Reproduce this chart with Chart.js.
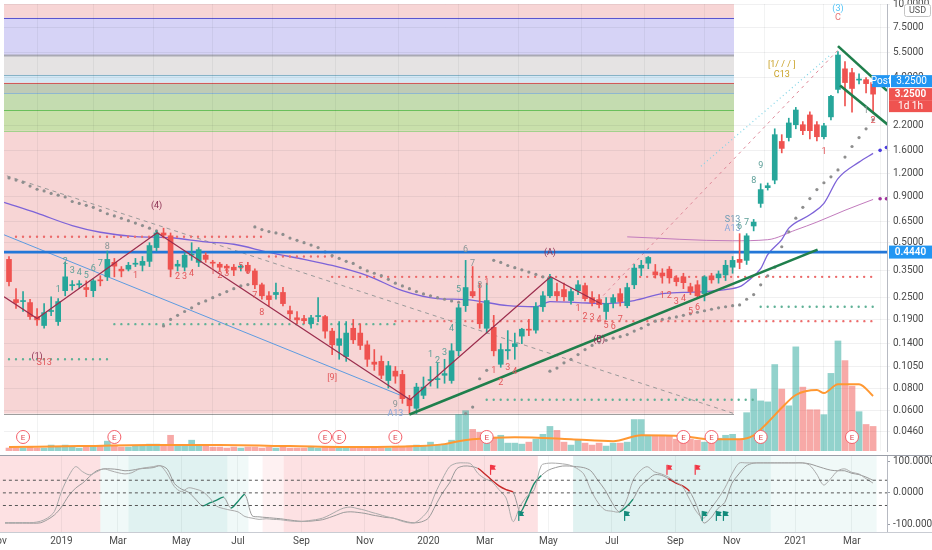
<!DOCTYPE html>
<html>
<head>
<meta charset="utf-8">
<script src="https://cdn.jsdelivr.net/npm/chart.js@4.4.1/dist/chart.umd.min.js"></script>
<style>
  html, body { margin: 0; padding: 0; background: #fff; width: 932px; height: 550px; overflow: hidden; }
  .pane { position: absolute; left: 0; width: 932px; }
</style>
</head>
<body>
<div class="pane" style="top:0;height:455px"><canvas id="mainChart"></canvas></div>
<div class="pane" style="top:455px;height:95px"><canvas id="oscChart"></canvas></div>
<script>
// weekly candles, first bar is the week of 12 Nov 2018
const firstWeek = '2018-11-12';

const opens = [0.405,0.244,0.238,0.235,0.197,0.176,0.210,0.185,0.273,0.291,
  0.294,0.284,0.273,0.313,0.325,0.390,0.358,0.358,0.381,0.376,
  0.395,0.470,0.565,0.545,0.372,0.367,0.427,0.390,0.427,0.390,
  0.381,0.372,0.367,0.367,0.376,0.350,0.294,0.256,0.260,0.267,
  0.212,0.194,0.192,0.180,0.197,0.197,0.164,0.137,0.119,0.170,
  0.160,0.138,0.111,0.112,0.088,0.099,0.095,0.070,0.062,0.073,
  0.088,0.089,0.094,0.088,0.128,0.226,0.270,0.232,0.170,0.172,
  0.108,0.128,0.135,0.154,0.168,0.166,0.223,0.256,0.270,0.277,
  0.241,0.273,0.291,0.250,0.244,0.210,0.235,0.263,0.226,0.294,
  0.363,0.386,0.346,0.341,0.358,0.321,0.325,0.287,0.294,0.263,
  0.329,0.321,0.333,0.367,0.405,0.400,0.617,0.82,1.00,1.10,
  1.79,1.88,2.21,2.21,2.50,2.21,1.90,2.44,3.45,4.47,
  4.26,3.88,3.90,3.76];
const highs = [0.42,0.28,0.27,0.245,0.218,0.232,0.253,0.247,0.39,0.31,
  0.31,0.309,0.317,0.33,0.45,0.41,0.37,0.39,0.41,0.42,
  0.50,0.58,0.60,0.565,0.40,0.44,0.50,0.47,0.44,0.40,
  0.39,0.38,0.38,0.38,0.39,0.36,0.30,0.27,0.30,0.285,
  0.225,0.21,0.20,0.20,0.25,0.20,0.17,0.185,0.185,0.19,
  0.18,0.145,0.13,0.12,0.112,0.105,0.10,0.073,0.085,0.092,
  0.105,0.11,0.115,0.14,0.23,0.40,0.37,0.30,0.30,0.20,
  0.14,0.165,0.16,0.17,0.19,0.235,0.27,0.335,0.30,0.30,
  0.28,0.31,0.30,0.27,0.26,0.25,0.26,0.28,0.30,0.38,
  0.40,0.42,0.38,0.36,0.37,0.33,0.34,0.30,0.31,0.33,
  0.34,0.35,0.40,0.42,0.56,0.56,0.67,1.05,1.06,2.1,
  1.95,2.4,2.75,2.30,2.60,2.30,2.25,3.2,5.55,4.9,
  4.5,4.2,4.0,3.9];
const lows = [0.29,0.218,0.21,0.19,0.176,0.17,0.199,0.176,0.256,0.275,
  0.28,0.253,0.253,0.29,0.31,0.325,0.325,0.35,0.37,0.35,
  0.37,0.45,0.53,0.325,0.35,0.35,0.40,0.37,0.39,0.37,
  0.35,0.34,0.33,0.35,0.34,0.28,0.245,0.225,0.245,0.225,
  0.19,0.18,0.18,0.17,0.185,0.15,0.122,0.115,0.112,0.14,
  0.13,0.105,0.10,0.09,0.08,0.085,0.066,0.058,0.058,0.07,
  0.082,0.08,0.085,0.085,0.12,0.21,0.25,0.17,0.16,0.12,
  0.104,0.115,0.115,0.14,0.155,0.16,0.21,0.25,0.24,0.24,
  0.23,0.26,0.24,0.225,0.22,0.19,0.22,0.225,0.22,0.28,
  0.33,0.36,0.32,0.30,0.30,0.29,0.28,0.26,0.25,0.24,
  0.30,0.30,0.31,0.34,0.36,0.38,0.58,0.78,0.97,1.05,
  1.55,1.80,2.10,1.95,1.85,1.80,1.85,2.35,3.30,2.8,
  2.59,3.7,3.3,2.59];
const closes = [0.306,0.235,0.240,0.197,0.189,0.207,0.212,0.238,0.325,0.294,
  0.298,0.277,0.309,0.309,0.405,0.372,0.350,0.376,0.386,0.395,
  0.482,0.565,0.550,0.358,0.381,0.427,0.432,0.458,0.405,0.386,
  0.367,0.363,0.354,0.372,0.350,0.294,0.256,0.244,0.267,0.232,
  0.204,0.189,0.187,0.194,0.199,0.164,0.138,0.149,0.160,0.147,
  0.137,0.115,0.108,0.094,0.106,0.093,0.070,0.064,0.081,0.081,
  0.089,0.090,0.096,0.128,0.220,0.284,0.256,0.180,0.241,0.128,
  0.130,0.130,0.140,0.168,0.166,0.223,0.256,0.321,0.256,0.253,
  0.270,0.294,0.247,0.235,0.229,0.232,0.250,0.238,0.284,0.363,
  0.376,0.415,0.333,0.329,0.321,0.306,0.302,0.270,0.256,0.325,
  0.313,0.337,0.376,0.400,0.390,0.545,0.648,0.976,1.025,1.95,
  1.64,2.26,2.66,2.05,2.05,1.90,2.18,3.16,5.32,3.76,
  3.49,3.92,3.71,3.25];
const volumes = [3,3,3,4,3,3,6,4,6,4,
  3,4,4,5,10,5,4,4,5,5,
  7,7,5,16,5,6,11,6,5,4,
  4,3,4,3,4,4,3,4,3,4,
  3,3,3,4,3,4,4,3,4,3,
  3,4,4,3,3,4,4,5,6,5,
  9,6,7,11,37,41,22,19,17,14,
  16,8,8,7,9,12,17,25,21,9,
  6,11,8,6,8,5,8,8,9,32,
  32,16,16,16,15,12,11,12,11,9,
  11,13,16,17,12,39,63,51,50,88,
  63,46,106,65,42,42,37,79,112,92,
  66,40,27,25];
const volMaWeeks = [0,10,20,30,40,50,58,62,64,66,72,80,86,90,96,100,104,106,108,110,112,115,116,118,121,123];
const volMaValues = [4,5,6,6,5,4,5,7,10,12,14,12,10,16,15,12,12,16,29,44,57,62,59,68,68,56];

// moving averages
const ma1Weeks = [-0.7,4,9,13,18,23,28,32,37,42,46,51,56,61,65,71,75,77,81,85,89,93,96,99,102,104,105,107,108,110,111,114,116,118,121,123];
const ma1Values = [0.83,0.725,0.62,0.57,0.54,0.532,0.505,0.49,0.442,0.405,0.375,0.33,0.273,0.247,0.244,0.226,0.223,0.238,0.235,0.232,0.241,0.263,0.267,0.27,0.277,0.287,0.305,0.36,0.43,0.52,0.6,0.71,0.82,1.12,1.38,1.54];
const ma2Weeks = [88,103,108,112,115,119,123];
const ma2Values = [0.538,0.512,0.519,0.587,0.648,0.752,0.862];
const projWeeks = [124,124.9];
const ma1Proj = [1.60,1.66];
const ma2Proj = [0.87,0.87];

// parabolic stop dots
const sar = [1.13,1.10,1.07,1.02,0.98,0.96,0.93,0.91,0.89,0.84,
  0.82,0.80,0.78,0.75,0.72,0.70,0.68,0.66,0.64,0.62,
  0.60,0.58,0.175,0.19,0.20,0.21,0.22,0.232,0.24,0.25,
  0.26,0.27,0.28,0.29,0.295,0.61,0.59,0.575,0.565,0.555,
  0.53,0.515,0.50,0.485,0.47,0.445,0.425,0.41,0.395,0.385,
  0.365,0.35,0.34,0.33,0.315,0.30,0.29,0.28,0.27,0.262,
  0.256,0.25,0.245,0.24,0.236,0.058,0.063,0.09,0.10,0.40,
  0.39,0.375,0.365,0.355,0.345,0.335,0.325,0.099,0.103,0.11,
  0.115,0.122,0.13,0.137,0.142,0.146,0.15,0.153,0.157,0.164,
  0.17,0.178,0.186,0.19,0.193,0.196,0.2,0.204,0.208,0.212,
  0.216,0.22,0.223,0.226,0.228,0.245,0.26,0.294,0.329,0.367,
  0.475,0.573,0.681,0.78,0.872,0.976,1.064,1.146,1.25,1.47,
  1.68,1.88,2.10,2.35];

// drawn lines
const keyLevel = 0.444;
const waveWeeks = [-0.7,4,21.1,57.1,77.1,84.2];
const wavePrices = [0.253,0.192,0.566,0.069,0.325,0.232];
const supportWeeks = [57,115.1];
const supportPrices = [0.0573,0.458];
const lowerChannelWeeks = [-0.7,57];
const lowerChannelPrices = [0.552,0.0698];
const fallDashWeeks = [-0.3,103.2];
const fallDashPrices = [1.16,0.058];
const riseDashWeeks = [83.9,118];
const riseDashPrices = [0.241,5.66];
const cyanDashWeeks = [98.5,116.9];
const cyanDashPrices = [1.31,5.32];
const wedgeTopWeeks = [118,125];
const wedgeTopPrices = [5.95,3.39];
const wedgeLowWeeks = [118.3,125.1];
const wedgeLowPrices = [3.62,2.21];

// dotted support / resistance levels
const levelPrices = [0.539,0.42,0.325,0.186,0.179,0.115,0.069,0.223];
const levelFrom = [1,37,46,55,15,0,68,107];
const levelTo = [36,46,123,123,55,14.5,106,123];
const levelSide = ['sell','sell','sell','sell','buy','buy','buy','buy'];

// coloured price zones and shading
const shadeEndWeek = 103.2;
const shadeFloor = 0.058;
const zoneHigh = [8.51,5.27,4.15,3.74,3.28,2.66];
const zoneLow = [5.32,4.15,3.76,3.28,2.66,2.05];
const zoneEdges = [8.51,5.29,4.15,3.73,3.28,2.66,2.05];

// axis
const priceTicks = [10,7.5,5.5,4,2.2,1.6,1.2,0.9,0.65,0.5,0.35,0.25,0.19,0.14,0.105,0.08,0.06,0.046];
const monthStarts = ['2018-11-01','2019-01-01','2019-03-01','2019-05-01','2019-07-01','2019-09-01','2019-11-01','2020-01-01','2020-03-01','2020-05-01','2020-07-01','2020-09-01','2020-11-01','2021-01-01','2021-03-01'];
const monthLabels = ['Nov','2019','Mar','May','Jul','Sep','Nov','2020','Mar','May','Jul','Sep','Nov','2021','Mar'];
const earningsWeeks = [2,15,45,47,55,68,96,100,107,120];

// count labels
const labelWeeks = [7,8,9,10,11,12,13,14,18,23,24,25,26,29,30,31,33,34,35,36,21,46,55,55,60,61,62,63,64,65,66,67,68,69,70,71,72,77,81,82,83,84,85,86,87,84,93,94,95,96,97,98,103,103,104,105,106,107,116,122,123,110,110,118,118,4,5];
const labelPrices = [0.277,0.395,0.350,0.341,0.329,0.358,0.381,0.476,0.329,0.341,0.325,0.325,0.337,0.346,0.329,0.337,0.367,0.346,0.256,0.207,0.80,0.091,0.065,0.058,0.121,0.113,0.125,0.168,0.277,0.458,0.381,0.291,0.30,0.099,0.086,0.104,0.098,0.442,0.218,0.197,0.194,0.189,0.176,0.174,0.189,0.147,0.256,0.256,0.238,0.247,0.210,0.220,0.665,0.594,0.61,0.64,1.09,1.31,1.58,2.63,2.32,4.70,4.15,8.51,9.52,0.119,0.110];
const labelTexts = ['1','2','3','4','5','6','7','8','1','1','2','3','4','1','2','3','5','6','7','8','(4)','[9]','9','A13','1','2','3','4','5','6','7','8','1','1','2','3','4','(A)','1','2','3','4','5','6','7','(B)','1','2','3','4','5','6','S13','A13','6','7','8','9','1','1','2','[1/ / / ]','C13','C','(3)','(1)','S13'];
const labelKinds = ['t','t','t','t','t','t','t','g','r','r','r','r','r','r','r','r','r','r','r','r','d','r','g','b','t','t','t','t','t','g','g','g','r','r','r','r','r','d','r','r','r','r','r','r','r','d','r','r','r','r','r','r','s','b','t','t','t','t','r','g','r','y','y','p','c','d','r'];

// oscillator pane
const oscFast = [-94,-94,-94,-94,-94,-90,-80,-59,4,52,
  83,67,57,67,76,70,64,60,64,76,
  80,83,86,60,20,4,16,12,4,-16,
  -42,-50,-55,-60,-75,-80,-84,-82,-84,-85,
  -88,-90,-91,-88,-85,-80,-70,-58,-48,-45,
  -50,-55,-62,-68,-75,-80,-88,-94,-95,-80,
  -54,0,45,83,94,95,92,62,45,35,
  10,-16,-91,-42,-10,10,87,94,94,92,
  88,78,60,10,-30,-54,-58,-60,-28,40,
  70,83,67,60,50,35,20,-20,-60,-80,
  -50,-20,15,60,94,95,95,95,95,95,
  95,95,95,95,88,60,25,45,70,76,
  65,60,45,31];
const oscSlow = [-96,-96,-96,-96,-96,-95,-85,-70,-45,-10,
  15,31,52,70,76,76,74,70,72,76,
  78,80,86,75,30,12,2,-20,-41,-32,
  -23,-14,-48,-27,-6,-72,-76,-78,-80,-82,
  -85,-88,-90,-90,-88,-85,-78,-70,-62,-60,
  -62,-65,-70,-74,-78,-80,-86,-92,-95,-92,
  -80,-40,0,32,76,85,84,78,60,40,
  22,10,2,-60,-20,30,55,72,80,85,
  85,83,80,70,40,10,-30,-60,-45,-20,
  20,40,57,56,45,32,22,5,-40,-95,
  -80,-50,-30,30,60,85,94,95,95,95,
  95,95,95,95,92,85,78,72,70,70,
  62,58,50,40];
const oscLevels = [40,0,-40];
const oscTicks = [100,0,-100];
const risingSpans = [[28,31],[32,34],[73,76],[87,89]];
const fallingSpans = [[67,72],[94,97]];
const oscShadeFrom = [-1,13.5,17.5,31.5,36.5,39.5,80.5,108.5];
const oscShadeTo = [13.5,17.5,31.5,34.5,39.5,75.5,108.5,123.5];
const oscShadeKind = ['sell','buyLight','buy','buyLight','sellLight','sell','buy','buyLight'];
const sellFlagWeeks = [69,94,98];
const buyFlagWeeks = [73,88,99,101,102];
const flagLevel = 73;

// ---------------------------------------------------------------

const xMin = -0.71, xMax = 124.98;
const DAY = 86400000;
const t0 = Date.parse(firstWeek + 'T00:00:00Z');
const monthPos = monthStarts.map(d => Math.ceil((Date.parse(d + 'T00:00:00Z') - t0) / (7 * DAY)));
const lastClose = closes[closes.length - 1];

const UP = '#26a69a', DOWN = '#ef5350';
const up = closes.map((c, i) => c >= opens[i]);
const candleColors = up.map(u => u ? UP : DOWN);
const volColors = up.map(u => u ? 'rgba(38,166,154,0.5)' : 'rgba(239,83,80,0.5)');
const labelPalette = { t: '#5d9f98', g: '#8a9696', r: '#e2575a', d: '#8b2f52', b: '#88a8dc', s: '#6f9cb5', y: '#c9a227', p: '#e57373', c: '#4fc3f7' };
const zoneFill = ['#d6d3f6', '#e5e3e3', '#d3e8f5', '#bfcbb6', '#c4dcb0', '#c9e0ab'];
const zoneLine = ['#5a55d0', '#a9a9b3', '#86b3c6', '#d05a5a', '#8fb7cf', '#6abf5b', '#a3d18c'];
const shadeColors = { sell: 'rgba(242,54,69,0.15)', sellLight: 'rgba(242,54,69,0.07)', buy: 'rgba(38,166,154,0.14)', buyLight: 'rgba(38,166,154,0.07)' };

Chart.defaults.font.family = "Roboto, 'DejaVu Sans', sans-serif";
Chart.defaults.font.size = 10;
Chart.defaults.color = '#4a4a4a';
Chart.defaults.animation = false;

const pts = (ws, vs) => ws.map((w, i) => ({ x: w, y: vs[i] }));
const weeks = opens.map((_, i) => i);

function line(data, color, width, extra) {
  return Object.assign({ type: 'line', data, borderColor: color, borderWidth: width, pointRadius: 0, fill: false, tension: 0, yAxisID: 'y' }, extra || {});
}

const datasets = [
  { type: 'bar', data: weeks.map(i => ({ x: i, y: volumes[i] })), backgroundColor: volColors, barThickness: 6, yAxisID: 'yv', grouped: false, order: 100 },
  line(pts(volMaWeeks, volMaValues), '#ff9832', 2, { yAxisID: 'yv', order: 95, cubicInterpolationMode: 'monotone' }),
  line(pts(fallDashWeeks, fallDashPrices), '#9a9a9a', 1, { borderDash: [4, 4], order: 60 }),
  line(pts(riseDashWeeks, riseDashPrices), '#e08a9a', 1, { borderDash: [3, 4], order: 60 }),
  line(pts(cyanDashWeeks, cyanDashPrices), '#7fd3e6', 1.2, { borderDash: [1, 3], order: 60 }),
  line(pts(lowerChannelWeeks, lowerChannelPrices), '#5d9be0', 1, { order: 55 }),
  line(pts(ma1Weeks, ma1Values), '#7d63d8', 1.3, { order: 55, cubicInterpolationMode: 'monotone' }),
  line(pts(ma2Weeks, ma2Values), '#c27bbd', 1, { order: 55, cubicInterpolationMode: 'monotone' }),
  line(pts(projWeeks, ma1Proj), '#4b3ce0', 0, { showLine: false, pointRadius: 1.8, pointBackgroundColor: '#4b3ce0', order: 55 }),
  line(pts(projWeeks, ma2Proj), '#a0329b', 0, { showLine: false, pointRadius: 1.8, pointBackgroundColor: '#a0329b', order: 55 })
];
levelPrices.forEach((p, k) => {
  datasets.push(line([{ x: levelFrom[k], y: p }, { x: levelTo[k], y: p }], levelSide[k] === 'sell' ? '#ec6b6b' : '#5fb196', 2.4,
    { borderDash: [0, 7], borderCapStyle: 'round', order: 50 }));
});
datasets.push(
  { type: 'line', data: sar.map((v, i) => ({ x: i, y: v })), showLine: false, pointRadius: 1.6, pointBackgroundColor: '#8e8e8e', pointBorderWidth: 0, yAxisID: 'y', order: 45 },
  line([{ x: -2, y: keyLevel }, { x: 130, y: keyLevel }], '#2377d8', 2.6, { order: 30 }),
  { type: 'bar', data: weeks.map(i => ({ x: i, y: [lows[i], highs[i]] })), backgroundColor: candleColors, barThickness: 1, grouped: false, yAxisID: 'y', order: 20 },
  { type: 'bar', data: weeks.map(i => ({ x: i, y: [opens[i], closes[i]] })), backgroundColor: candleColors, barThickness: 5, minBarLength: 1, grouped: false, yAxisID: 'y', order: 19 },
  line(pts(waveWeeks, wavePrices), '#9b2d4d', 1.2, { order: 10 }),
  line(pts(supportWeeks, supportPrices), '#1f7f4c', 2.6, { order: 10 }),
  line(pts(wedgeTopWeeks, wedgeTopPrices), '#1f7f4c', 2.6, { order: 10 }),
  line(pts(wedgeLowWeeks, wedgeLowPrices), '#1f7f4c', 2.6, { order: 10 })
);

function box(ctx, x, y, w, h, fill, text, color, bold) {
  ctx.fillStyle = fill;
  ctx.fillRect(x, y, w, h);
  ctx.fillStyle = color;
  ctx.font = (bold ? '600 ' : '') + "10px Roboto, 'DejaVu Sans', sans-serif";
  ctx.textAlign = 'center';
  ctx.textBaseline = 'middle';
  ctx.fillText(text, x + w / 2, y + h / 2 + 0.5);
}

const mainDecor = {
  id: 'mainDecor',
  beforeDraw(chart) {
    const { ctx, chartArea: a, scales: { x, y } } = chart;
    ctx.save();
    ctx.fillStyle = '#fff';
    ctx.fillRect(0, 0, chart.width, chart.height);
    const xr = x.getPixelForValue(shadeEndWeek);
    const yb = y.getPixelForValue(shadeFloor);
    ctx.fillStyle = '#f7d5d5';
    ctx.fillRect(a.left, a.top, xr - a.left, yb - a.top);
    zoneHigh.forEach((h, k) => {
      const y1 = y.getPixelForValue(h), y2 = y.getPixelForValue(zoneLow[k]);
      ctx.fillStyle = zoneFill[k];
      ctx.fillRect(a.left, y1, xr - a.left, y2 - y1);
    });
    zoneEdges.forEach((p, k) => {
      const yy = Math.round(y.getPixelForValue(p)) + 0.5;
      ctx.strokeStyle = zoneLine[k];
      ctx.lineWidth = k === 1 ? 2 : 1;
      ctx.beginPath(); ctx.moveTo(a.left, yy); ctx.lineTo(xr, yy); ctx.stroke();
    });
    ctx.strokeStyle = '#9e9e9e';
    ctx.lineWidth = 1;
    ctx.beginPath(); ctx.moveTo(a.left, Math.round(yb) + 0.5); ctx.lineTo(xr, Math.round(yb) + 0.5); ctx.stroke();
    ctx.restore();
  },
  afterDatasetsDraw(chart) {
    const { ctx, chartArea: a, scales: { x, y } } = chart;
    ctx.save();
    ctx.textAlign = 'center';
    ctx.textBaseline = 'middle';
    labelTexts.forEach((t, k) => {
      ctx.fillStyle = labelPalette[labelKinds[k]];
      ctx.font = "9px Roboto, 'DejaVu Sans', sans-serif";
      ctx.fillText(t, x.getPixelForValue(labelWeeks[k]), y.getPixelForValue(labelPrices[k]));
    });
    earningsWeeks.forEach(w => {
      const px = x.getPixelForValue(w), py = a.bottom - 14;
      ctx.beginPath();
      ctx.arc(px, py, 6.5, 0, Math.PI * 2);
      ctx.fillStyle = '#fff'; ctx.fill();
      ctx.strokeStyle = '#f4606a'; ctx.lineWidth = 1; ctx.stroke();
      ctx.fillStyle = '#e0454f';
      ctx.font = "8px Roboto, 'DejaVu Sans', sans-serif";
      ctx.fillText('E', px, py + 0.5);
    });
    ctx.restore();
  },
  afterDraw(chart) {
    const { ctx, chartArea: a, scales: { y } } = chart;
    ctx.save();
    const yk = y.getPixelForValue(keyLevel);
    box(ctx, a.right + 2, yk - 6.5, chart.width - a.right - 2, 13, '#2196f3', keyLevel.toFixed(4), '#fff', true);
    const yl = y.getPixelForValue(lastClose);
    box(ctx, a.right - 15, yl - 19, 18, 12, '#2196f3', 'Post', '#fff');
    box(ctx, a.right + 4, yl - 19, chart.width - a.right - 4, 12, '#2196f3', lastClose.toFixed(4), '#fff');
    box(ctx, a.right + 2, yl - 6, chart.width - a.right - 2, 12, '#ef5350', lastClose.toFixed(4), '#fff', true);
    box(ctx, a.right + 2, yl + 6, chart.width - a.right - 2, 12, '#ef5350', '1d 1h', '#fff');
    ctx.strokeStyle = '#c4c4c4';
    ctx.lineWidth = 1;
    ctx.fillStyle = '#fff';
    ctx.beginPath();
    ctx.roundRect(a.right + 17.5, 4.5, 26, 12, 2);
    ctx.fill(); ctx.stroke();
    ctx.fillStyle = '#555';
    ctx.font = "9px Roboto, 'DejaVu Sans', sans-serif";
    ctx.textAlign = 'center';
    ctx.textBaseline = 'middle';
    ctx.fillText('USD', a.right + 30.5, 11);
    ctx.restore();
  }
};

new Chart(document.getElementById('mainChart'), {
  type: 'bar',
  data: { datasets },
  options: {
    responsive: true,
    maintainAspectRatio: false,
    layout: { padding: 0 },
    plugins: { legend: { display: false }, tooltip: { enabled: false } },
    scales: {
      x: {
        type: 'linear', min: xMin, max: xMax, offset: false,
        afterBuildTicks: ax => { ax.ticks = monthPos.filter(p => p >= xMin && p <= xMax).map(v => ({ value: v })); },
        afterFit: ax => { ax.height = 0; ax.paddingLeft = 0; ax.paddingRight = 0; },
        ticks: { display: false },
        grid: { color: 'rgba(42,46,57,0.06)', drawTicks: false },
        border: { display: false }
      },
      y: {
        type: 'logarithmic', position: 'right', min: 0.0362, max: 10.12,
        afterBuildTicks: ax => { ax.ticks = priceTicks.map(v => ({ value: v })); },
        afterFit: ax => { ax.width = 45; ax.paddingTop = 0; ax.paddingBottom = 0; },
        ticks: { autoSkip: false, padding: 3, color: '#4a4a4a', callback: v => Number(v).toFixed(4) },
        grid: { color: 'rgba(42,46,57,0.07)', tickLength: 3 },
        border: { display: true, color: '#b7bac2' }
      },
      yv: { type: 'linear', display: false, min: 0, max: 455 }
    }
  },
  plugins: [mainDecor]
});

// ---------------- oscillator ----------------
function spanColor(i) {
  if (risingSpans.some(s => i >= s[0] && i < s[1])) return '#1b8a6b';
  if (fallingSpans.some(s => i >= s[0] && i < s[1])) return '#c62828';
  return '#9a9a9a';
}

const oscSets = oscLevels.map(v => ({
  data: [{ x: -2, y: v }, { x: 130, y: v }], borderColor: '#555', borderWidth: 1, borderDash: [3, 3], pointRadius: 0
}));
oscSets.push(
  { data: oscFast.map((v, i) => ({ x: i, y: v })), borderColor: '#ababab', borderWidth: 1, pointRadius: 0, tension: 0.3 },
  { data: oscSlow.map((v, i) => ({ x: i, y: v })), borderColor: '#9a9a9a', borderWidth: 1, pointRadius: 0, tension: 0.3,
    segment: { borderColor: c => spanColor(c.p0DataIndex), borderWidth: c => spanColor(c.p0DataIndex) === '#9a9a9a' ? 1 : 1.4 } }
);

function flag(ctx, px, py, color) {
  ctx.fillStyle = color;
  ctx.fillRect(px - 2, py - 5, 1.2, 10);
  ctx.beginPath();
  ctx.moveTo(px - 1, py - 5);
  ctx.lineTo(px + 4, py - 4);
  ctx.lineTo(px + 2.5, py - 2);
  ctx.lineTo(px + 4, py);
  ctx.lineTo(px - 1, py);
  ctx.closePath();
  ctx.fill();
}

const oscDecor = {
  id: 'oscDecor',
  beforeDraw(chart) {
    const { ctx, chartArea: a, scales: { x } } = chart;
    ctx.save();
    ctx.fillStyle = '#fff';
    ctx.fillRect(0, 0, chart.width, chart.height);
    oscShadeFrom.forEach((f, k) => {
      const x1 = Math.max(a.left, x.getPixelForValue(f));
      const x2 = Math.min(a.right, x.getPixelForValue(oscShadeTo[k]));
      ctx.fillStyle = shadeColors[oscShadeKind[k]];
      ctx.fillRect(x1, a.top, x2 - x1, a.bottom - a.top);
    });
    ctx.restore();
  },
  afterDatasetsDraw(chart) {
    const { ctx, scales: { x, y } } = chart;
    ctx.save();
    sellFlagWeeks.forEach(w => flag(ctx, x.getPixelForValue(w), y.getPixelForValue(flagLevel), '#f23645'));
    buyFlagWeeks.forEach(w => flag(ctx, x.getPixelForValue(w), y.getPixelForValue(-flagLevel), '#138a7a'));
    ctx.restore();
  },
  afterDraw(chart) {
    const { ctx, chartArea: a, scales: { x } } = chart;
    ctx.save();
    ctx.strokeStyle = '#9a9ea8';
    ctx.lineWidth = 1;
    ctx.beginPath(); ctx.moveTo(0, 0.5); ctx.lineTo(chart.width, 0.5); ctx.stroke();
    ctx.strokeStyle = '#c9ccd3';
    ctx.beginPath(); ctx.moveTo(0, a.bottom + 0.5); ctx.lineTo(chart.width, a.bottom + 0.5); ctx.stroke();
    ctx.fillStyle = '#4a4a4a';
    ctx.font = "10px Roboto, 'DejaVu Sans', sans-serif";
    ctx.textAlign = 'center';
    ctx.textBaseline = 'middle';
    ctx.beginPath();
    ctx.rect(0, a.bottom, a.right, chart.height - a.bottom);
    ctx.clip();
    monthPos.forEach((p, k) => ctx.fillText(monthLabels[k], x.getPixelForValue(p), a.bottom + 9));
    ctx.restore();
  }
};

new Chart(document.getElementById('oscChart'), {
  type: 'line',
  data: { datasets: oscSets },
  options: {
    responsive: true,
    maintainAspectRatio: false,
    layout: { padding: 0 },
    plugins: { legend: { display: false }, tooltip: { enabled: false } },
    scales: {
      x: {
        type: 'linear', min: xMin, max: xMax, offset: false,
        afterBuildTicks: ax => { ax.ticks = monthPos.filter(p => p >= xMin && p <= xMax).map(v => ({ value: v })); },
        afterFit: ax => { ax.height = 18; ax.paddingLeft = 0; ax.paddingRight = 0; },
        ticks: { display: false },
        grid: { color: 'rgba(42,46,57,0.06)', drawTicks: false },
        border: { display: false }
      },
      y: {
        type: 'linear', position: 'right', min: -124, max: 120,
        afterBuildTicks: ax => { ax.ticks = oscTicks.map(v => ({ value: v })); },
        afterFit: ax => { ax.width = 45; ax.paddingTop = 0; ax.paddingBottom = 0; },
        ticks: { autoSkip: false, padding: 3, color: '#4a4a4a', callback: v => Number(v).toFixed(4) },
        grid: { display: true, drawOnChartArea: false, tickLength: 3, color: '#9a9ea8' },
        border: { display: true, color: '#b7bac2' }
      }
    }
  },
  plugins: [oscDecor]
});
</script>
</body>
</html>
